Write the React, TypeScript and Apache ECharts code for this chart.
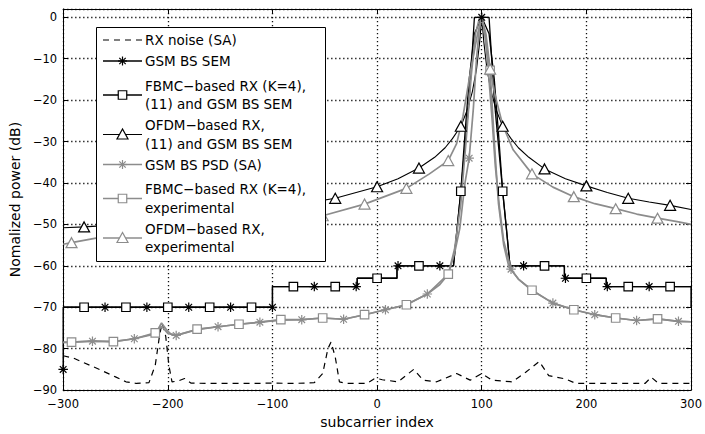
import React, { useEffect, useRef } from 'react';
import * as echarts from 'echarts';

// ---------- data ----------
const xTicks = [-300, -200, -100, 0, 100, 200, 300];
const yTicks = [-90, -80, -70, -60, -50, -40, -30, -20, -10, 0];

const noiseX = [-300, -290, -270, -250, -240, -230, -218, -212, -208, -205.5, -202, -199, -196, -190, -184, -178, -160, -120, -100, -80, -60, -52, -47, -44, -40, -36, -30, -10, -3, 0, 5, 20, 35, 44, 57, 76, 89, 100, 110, 129, 142, 155, 164, 180, 190, 256, 262, 269, 300];
const noiseY = [-81.7, -82.3, -84.5, -86.8, -88, -88.4, -88.2, -84, -77, -73.8, -77, -84, -88, -87.8, -87.2, -88.3, -88.4, -88.4, -88.3, -88.4, -88.2, -86, -80, -78.4, -82, -88, -88.4, -88.4, -87.3, -87.2, -87.5, -88, -85, -87.6, -88, -86, -87.6, -86, -87.6, -88, -85.7, -83.1, -86.5, -87.3, -88.4, -88.4, -86.9, -88.4, -88.4];

const gsmSemX = [-300, -300, -260, -220, -180, -140, -100, -100, -60, -20, -19, -19, 19, 19, 20, 60, 73, 80, 88, 93, 100, 107, 112, 120, 127, 140, 179, 179, 180, 219, 219, 220, 260, 300, 300];
const gsmSemY = [-85, -70, -70, -70, -70, -70, -70, -65, -65, -65, -65, -63, -63, -60, -60, -60, -60, -42, -20, 0, 0, 0, -20, -42, -60, -60, -60, -63, -63, -63, -65, -65, -65, -65, -70];
const gsmSemMarkX = [-300, -260, -220, -180, -140, -100, -60, -20, 20, 60, 100, 140, 180, 220, 260];

const fbmcX = [-300, -280, -240, -200, -160, -120, -100, -100, -80, -40, -19, -19, 0, 19, 19, 40, 73, 76, 80, 84, 88, 93, 100, 107, 112, 116, 120, 124, 127, 160, 179, 179, 200, 219, 219, 240, 280, 300];
const fbmcY = [-70, -70, -70, -70, -70, -70, -70, -65, -65, -65, -65, -63, -63, -63, -60, -60, -60, -52, -42, -28, -15, -4, 0, -4, -15, -28, -42, -52, -60, -60, -60, -63, -63, -63, -65, -65, -65, -65];
const fbmcMarkX = [-280, -240, -200, -160, -120, -80, -40, 0, 40, 80, 120, 160, 200, 240, 280];

const ofdmX = [-300, -280, -240, -200, -160, -120, -80, -40, 0, 20, 40, 55, 65, 72, 80, 86, 91, 95, 98, 100, 102, 105, 109, 114, 120, 128, 135, 145, 160, 180, 200, 220, 240, 260, 280, 300];
const ofdmY = [-50.8, -50.6, -50.0, -49.2, -48.3, -47.1, -45.4, -43.7, -40.9, -39.0, -36.4, -33.8, -31.5, -29.3, -26.3, -22.5, -18, -12.5, -6, 0, -6, -12.5, -18, -22.5, -26.3, -29.3, -31.5, -33.8, -36.6, -39.0, -40.7, -42.3, -43.7, -44.6, -45.4, -46.4];
const ofdmMarkX = [-280, -240, -200, -160, -120, -80, -40, 0, 40, 80, 120, 160, 200, 240, 280];

const psdX = [-300, -292, -272, -252, -232, -215, -211, -206, -201, -197, -192, -172, -152, -132, -112, -92, -72, -52, -32, -12, 8, 28, 48, 60, 68, 74, 79, 84, 88, 92, 95, 98, 100, 103, 106, 110, 113, 117, 121, 128, 135, 148, 168, 188, 208, 228, 248, 268, 288, 300];
const psdY = [-78.5, -78.4, -78.2, -78.3, -77.6, -76.6, -76.1, -73.8, -75.5, -76.5, -76.8, -75.4, -74.7, -74.1, -73.6, -73.1, -73.0, -72.6, -72.9, -71.8, -70.6, -69.4, -66.8, -64.5, -62, -57, -51, -40, -34, -22, -10, -2, 0, -4, -12, -25, -36, -46, -54, -60.8, -63.2, -65.9, -69.0, -70.6, -71.8, -72.6, -73.2, -72.8, -73.4, -73.5];
const psdMarkX = [-272, -232, -192, -152, -112, -72, -32, 8, 48, 88, 128, 168, 208, 248, 288];

const fexpX = [-300, -292, -272, -252, -232, -212, -206, -200, -192, -172, -152, -132, -112, -92, -72, -52, -32, -12, 8, 28, 48, 68, 74, 80, 85, 90, 94, 98, 102, 108, 112, 116, 121, 126, 135, 148, 168, 188, 208, 228, 248, 268, 288, 300];
const fexpY = [-78.5, -78.4, -78.2, -78.3, -77.6, -76.2, -74.6, -76.3, -76.8, -75.3, -74.7, -74.1, -73.6, -73.0, -73.0, -72.6, -72.9, -71.8, -70.6, -69.4, -66.8, -62, -56, -45, -30, -14, -4, 0, -2, -12.8, -30, -45, -55, -60.3, -63.2, -65.9, -69.0, -70.6, -71.8, -72.6, -73.2, -72.8, -73.4, -73.5];
const fexpMarkX = [-292, -252, -212, -172, -132, -92, -52, -12, 28, 68, 108, 148, 188, 228, 268];

const oexpX = [-300, -292, -266, -252, -212, -172, -132, -92, -52, -12, 28, 50, 68, 76, 82, 90, 96, 100, 104, 108, 112, 120, 130, 148, 168, 188, 208, 228, 248, 268, 288, 300];
const oexpY = [-54.8, -54.4, -53.2, -53.0, -52.2, -51.1, -49.9, -48.8, -47.9, -45.1, -41.3, -37.8, -34.6, -30.5, -24, -12, -4, 0, -4, -12.5, -18, -26, -32, -37.8, -41.0, -43.3, -45.0, -46.2, -47.5, -48.5, -49.4, -50.0];
const oexpMarkX = [-292, -252, -212, -172, -132, -92, -52, -12, 28, 68, 108, 148, 188, 228, 268];

const legendLabels = [
  'RX noise (SA)',
  'GSM BS SEM',
  'FBMC\u2212based RX (K=4),\n(11) and GSM BS SEM',
  'OFDM\u2212based RX,\n(11) and GSM BS SEM',
  'GSM BS PSD (SA)',
  'FBMC\u2212based RX (K=4),\nexperimental',
  'OFDM\u2212based RX,\nexperimental',
];

// ---------- styles ----------
const FONT = "'DejaVu Sans', sans-serif";
const BLACK = '#000';
const GRAY = '#8c8c8c';
const ASTERISK = 'path://M0 5L10 5M5 0L5 10M1.5 1.5L8.5 8.5M1.5 8.5L8.5 1.5';

type Kind = 'dash' | 'star' | 'square' | 'tri';

function buildData(xs: number[], ys: number[], marks: number[]) {
  const used = new Set<number>();
  return xs.map((x, i) => {
    if (marks.includes(x) && !used.has(x)) {
      used.add(x);
      return { value: [x, ys[i]] };
    }
    return { value: [x, ys[i]], symbol: 'none' };
  });
}

function makeSeries(name: string, xs: number[], ys: number[], marks: number[], kind: Kind, color: string, width: number) {
  const symbolMap: Record<Kind, string> = { dash: 'none', star: ASTERISK, square: 'rect', tri: 'triangle' };
  const sizeMap: Record<Kind, number | number[]> = { dash: 0, star: 9.5, square: 8.5, tri: [11, 10] };
  return {
    name,
    type: 'line',
    data: buildData(xs, ys, marks),
    symbol: symbolMap[kind],
    symbolSize: sizeMap[kind],
    showAllSymbol: true,
    lineStyle: { color, width, type: kind === 'dash' ? [6, 5] : 'solid' },
    itemStyle: kind === 'star'
      ? { color: 'rgba(0,0,0,0)', borderColor: color, borderWidth: 1.2 }
      : { color: '#fff', borderColor: color, borderWidth: 1.2 },
    emphasis: { disabled: true },
    z: 3,
  };
}

const seriesDefs: { xs: number[]; ys: number[]; marks: number[]; kind: Kind; color: string; width: number }[] = [
  { xs: noiseX, ys: noiseY, marks: [], kind: 'dash', color: BLACK, width: 1.2 },
  { xs: gsmSemX, ys: gsmSemY, marks: gsmSemMarkX, kind: 'star', color: BLACK, width: 1.3 },
  { xs: fbmcX, ys: fbmcY, marks: fbmcMarkX, kind: 'square', color: BLACK, width: 1.3 },
  { xs: ofdmX, ys: ofdmY, marks: ofdmMarkX, kind: 'tri', color: BLACK, width: 1.1 },
  { xs: psdX, ys: psdY, marks: psdMarkX, kind: 'star', color: GRAY, width: 1.7 },
  { xs: fexpX, ys: fexpY, marks: fexpMarkX, kind: 'square', color: GRAY, width: 1.7 },
  { xs: oexpX, ys: oexpY, marks: oexpMarkX, kind: 'tri', color: GRAY, width: 1.7 },
];

// legend layout (pixels)
const LEG_BOX = { x: 96.5, y: 27.5, w: 229, h: 234 };
const LEG_ROW_Y = [40, 61, 95, 134.5, 164.5, 198.5, 238];
const LEG_X1 = 103, LEG_X2 = 142, LEG_MX = 122.5, LEG_TX = 145;

function legendGraphic() {
  const els: any[] = [];
  const Z = 100;
  els.push({ type: 'rect', z: Z, shape: { x: LEG_BOX.x, y: LEG_BOX.y, width: LEG_BOX.w, height: LEG_BOX.h }, style: { fill: '#fff', stroke: '#000', lineWidth: 1 } });
  seriesDefs.forEach((d, i) => {
    const y = LEG_ROW_Y[i];
    els.push({ type: 'line', z: Z + 1, shape: { x1: LEG_X1, y1: y, x2: LEG_X2, y2: y }, style: { stroke: d.color, lineWidth: d.width, lineDash: d.kind === 'dash' ? [6, 5] : null } });
    if (d.kind === 'star') {
      const r = 4.5, q = 3.2;
      [[-r, 0, r, 0], [0, -r, 0, r], [-q, -q, q, q], [-q, q, q, -q]].forEach((s) => {
        els.push({ type: 'line', z: Z + 2, shape: { x1: LEG_MX + s[0], y1: y + s[1], x2: LEG_MX + s[2], y2: y + s[3] }, style: { stroke: d.color, lineWidth: 1.2 } });
      });
    } else if (d.kind === 'square') {
      els.push({ type: 'rect', z: Z + 2, shape: { x: LEG_MX - 4.25, y: y - 4.25, width: 8.5, height: 8.5 }, style: { fill: '#fff', stroke: d.color, lineWidth: 1.2 } });
    } else if (d.kind === 'tri') {
      els.push({ type: 'polygon', z: Z + 2, shape: { points: [[LEG_MX, y - 5.5], [LEG_MX - 5.5, y + 4.5], [LEG_MX + 5.5, y + 4.5]] }, style: { fill: '#fff', stroke: d.color, lineWidth: 1.2 } });
    }
    els.push({ type: 'text', z: Z + 2, x: LEG_TX, y, style: { text: legendLabels[i], fill: '#000', font: `13.5px ${FONT}`, lineHeight: 18.5, verticalAlign: 'middle', align: 'left' } });
  });
  return els;
}

const minus = (v: number) => String(v).replace('-', '\u2212');

export default function App() {
  const ref = useRef<HTMLDivElement>(null);
  useEffect(() => {
    if (!ref.current) return;
    const chart = echarts.init(ref.current, null, { renderer: 'svg' });
    const axisLine = { show: true, onZero: false, lineStyle: { color: '#000', width: 1 } };
    const tick = { show: true, inside: true, length: 5, lineStyle: { color: '#000', width: 1 } };
    const split = { show: true, lineStyle: { color: '#111', width: 1.3, type: [1.3, 2.7] } };
    const option: any = {
      animation: false,
      backgroundColor: '#fff',
      grid: { left: 61, right: 12, top: 9, bottom: 40, containLabel: false },
      xAxis: [
        {
          type: 'value', min: -300, max: 300, interval: 100, position: 'bottom',
          name: 'subcarrier index', nameLocation: 'middle', nameGap: 22,
          nameTextStyle: { fontFamily: FONT, fontSize: 14, color: '#000' },
          axisLine, axisTick: tick, splitLine: split,
          axisLabel: { color: '#000', fontFamily: FONT, fontSize: 11.5, margin: 8,
            formatter: (v: number) => (xTicks.includes(v) ? minus(v) : '') },
        },
        {
          type: 'value', min: -300, max: 300, interval: 100, position: 'top',
          axisLine, axisTick: tick, splitLine: { show: false }, axisLabel: { show: false },
        },
      ],
      yAxis: [
        {
          type: 'value', min: -90, max: 2, interval: 10, position: 'left',
          name: 'Nomalized power (dB)', nameLocation: 'middle', nameGap: 32,
          nameTextStyle: { fontFamily: FONT, fontSize: 14, color: '#000' },
          axisLine, axisTick: tick, splitLine: split,
          axisLabel: { color: '#000', fontFamily: FONT, fontSize: 11.5, margin: 6,
            formatter: (v: number) => (yTicks.includes(v) ? minus(v) : '') },
        },
        {
          type: 'value', min: -90, max: 2, interval: 10, position: 'right',
          axisLine, axisTick: tick, splitLine: { show: false }, axisLabel: { show: false },
        },
      ],
      series: seriesDefs.map((d, i) => makeSeries(legendLabels[i].replace('\n', ' '), d.xs, d.ys, d.marks, d.kind, d.color, d.width)),
      graphic: { elements: legendGraphic() },
    };
    chart.setOption(option);
    return () => chart.dispose();
  }, []);
  return <div ref={ref} style={{ position: 'absolute', left: 0, top: 0, width: 705, height: 434 }} />;
}
